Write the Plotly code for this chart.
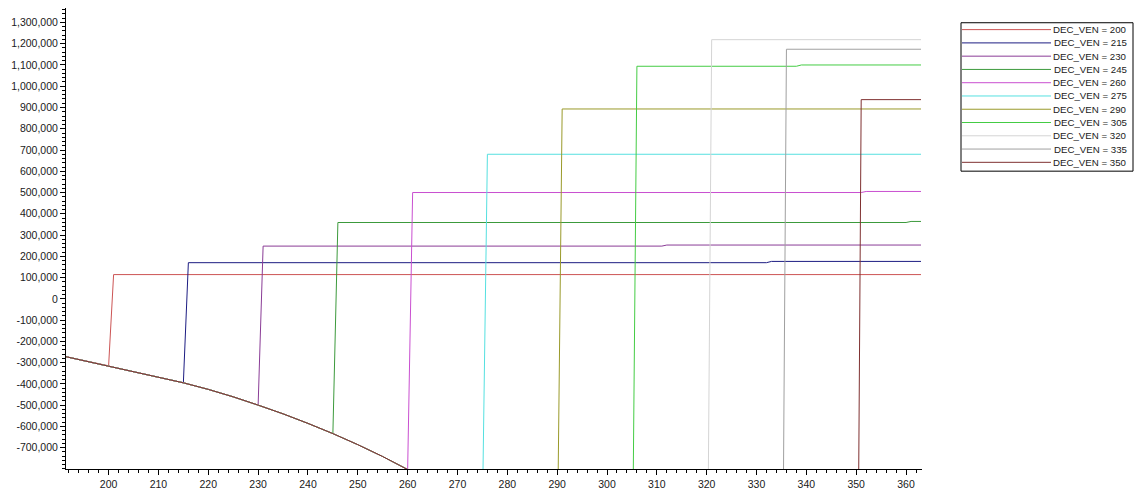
import plotly.graph_objects as go

# Series keys and their line colours
dec_ven = [200, 215, 230, 245, 260, 275, 290, 305, 320, 335, 350]
colors = ["#cc5555", "#1c1c82", "#8a3c96", "#3c9a3c", "#c94fd0",
          "#55e0e0", "#9a9a2a", "#44cc44", "#d4d4d4", "#a0a0a0", "#7f3030"]

# Shared declining curve that every series follows up to its DEC_VEN value
curve_x = [191, 195, 200, 205, 210, 215, 220, 225, 230, 235, 240, 245, 250,
           255, 260, 275, 290, 305, 320, 335, 350]
curve_y = [-270000, -291000, -315000, -340000, -367000, -395000, -426000,
           -461000, -500000, -541000, -586000, -634000, -686000, -742000,
           -803000, -1010000, -1250000, -1530000, -1840000, -2190000, -2570000]

# Level reached one step after DEC_VEN, with an optional small later step
plateau_start = [114000, 170000, 248000, 359000, 500000, 680000, 893000,
                 1094000, 1219000, 1174000, 937000]
plateau_step_x = [None, 332, 311, 360, 351, None, None, 338, None, None, None]
plateau_end = [None, 176000, 253000, 364000, 505000, None, None, 1100000,
               None, None, None]
x_last = 363

# Axis ticks
y_tick_vals = list(range(-700000, 1300001, 100000))
y_tick_text = [f"{v:,}" for v in y_tick_vals]
x_tick_vals = list(range(200, 361, 10))

fig = go.Figure()
for d, col, p1, sx, p2 in zip(dec_ven, colors, plateau_start, plateau_step_x, plateau_end):
    xs = [x for x in curve_x if x <= d]
    ys = [y for x, y in zip(curve_x, curve_y) if x <= d]
    xs.append(d + 1)
    ys.append(p1)
    last = p1
    if sx is not None:
        xs += [sx, sx + 1]
        ys += [p1, p2]
        last = p2
    xs.append(x_last)
    ys.append(last)
    fig.add_trace(go.Scatter(x=xs, y=ys, mode="lines", name=f"DEC_VEN = {d}",
                             line=dict(color=col, width=1), showlegend=False))

# Plot-area geometry in pixels (used to place the boxed legend)
W, H = 1136, 498
L, R, T, B = 66, 922, 8, 477


def px_x(px):
    return (px - L) / (R - L)


def px_y(py):
    return (B - py) / (B - T)


shapes = [dict(type="rect", xref="paper", yref="paper",
               x0=px_x(961), x1=px_x(1133), y0=px_y(174), y1=px_y(23),
               line=dict(color="#000000", width=1), fillcolor="white")]
annotations = []
for i, (d, col) in enumerate(zip(dec_ven, colors)):
    yy = 30 + i * 13.5
    shapes.append(dict(type="line", xref="paper", yref="paper",
                       x0=px_x(962), x1=px_x(1051), y0=px_y(yy), y1=px_y(yy),
                       line=dict(color=col, width=1)))
    annotations.append(dict(xref="paper", yref="paper", x=px_x(1129), y=px_y(yy),
                            xanchor="right", yanchor="middle", showarrow=False,
                            text=f"DEC_VEN = {d}",
                            font=dict(family="Liberation Sans, Arial", size=9.7,
                                      color="#1a1a1a")))

fig.update_layout(
    width=W, height=H,
    margin=dict(l=L, r=W - R, t=T, b=H - B, pad=0),
    paper_bgcolor="white", plot_bgcolor="white",
    font=dict(family="Liberation Sans, Arial", size=10.5, color="#1a1a1a"),
    shapes=shapes, annotations=annotations,
    showlegend=False,
    xaxis=dict(range=[191.45, 363.2], tickvals=x_tick_vals, showgrid=False,
               zeroline=False, showline=True, linecolor="#000000", linewidth=1,
               ticks="outside", ticklen=5, tickcolor="#000000",
               minor=dict(dtick=2, ticks="outside", ticklen=3, tickcolor="#000000")),
    yaxis=dict(range=[-800500, 1368000], tickvals=y_tick_vals, ticktext=y_tick_text,
               showgrid=False, zeroline=False, showline=True, linecolor="#000000",
               linewidth=1, ticks="outside", ticklen=5, tickcolor="#000000",
               minor=dict(tickvals=list(range(-800000, 1360001, 20000)),
                          ticks="outside", ticklen=3, tickcolor="#000000")),
)

fig.write_html("out.html")
